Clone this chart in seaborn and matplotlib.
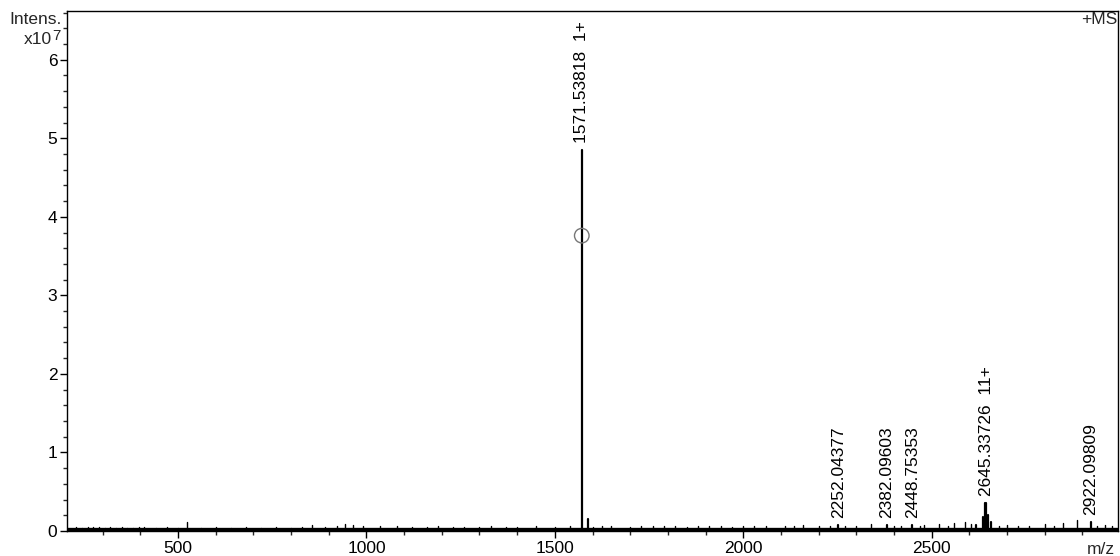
import matplotlib
matplotlib.use("Agg")
import matplotlib.pyplot as plt
from matplotlib.ticker import MultipleLocator
import numpy as np
import pandas as pd
import seaborn as sns

# ---- data (intensity in units of 1e7) ----
peak_mz = [1571.53818, 1588.0, 2252.04377, 2382.09603, 2448.75353,
           2636.0, 2641.3, 2645.33726, 2649.3, 2657.0, 2617.0, 2922.09809]
peak_int = [4.85, 0.15, 0.08, 0.08, 0.08,
            0.18, 0.36, 0.36, 0.20, 0.12, 0.08, 0.12]

label_mz = [1571.53818, 2252.04377, 2382.09603, 2448.75353, 2645.33726, 2922.09809]
label_int = [4.85, 0.08, 0.08, 0.08, 0.36, 0.12]
label_text = ["1571.53818  1+", "2252.04377", "2382.09603", "2448.75353",
              "2645.33726  11+", "2922.09809"]

noise_mz = [230, 245, 260, 275, 290, 305, 320, 335, 350, 365, 380, 395, 410, 440,
            470, 500, 524, 560, 600, 640, 680, 720, 760, 800, 830, 856, 890, 923,
            942, 963, 992, 1037, 1080, 1120, 1160, 1190, 1230, 1260, 1300, 1330,
            1370, 1400, 1450, 1500, 1540, 1600, 1625, 1650, 1700, 1730, 1760,
            1790, 1820, 1850, 1880, 1910, 1940, 1970, 2000, 2030, 2060, 2110,
            2135, 2160, 2200, 2230, 2270, 2300, 2340, 2400, 2420, 2470, 2480,
            2520, 2545, 2560, 2590, 2605, 2680, 2700, 2730, 2760, 2800, 2825,
            2850, 2885, 2940, 2960, 2980]
noise_int = [0.05, 0.04, 0.05, 0.05, 0.05, 0.04, 0.05, 0.04, 0.05, 0.04, 0.04, 0.05,
             0.05, 0.04, 0.05, 0.04, 0.12, 0.04, 0.05, 0.04, 0.05, 0.04, 0.05, 0.04,
             0.05, 0.08, 0.05, 0.07, 0.09, 0.08, 0.07, 0.07, 0.06, 0.05, 0.05, 0.06,
             0.05, 0.05, 0.05, 0.06, 0.05, 0.05, 0.06, 0.05, 0.06, 0.05, 0.06, 0.06,
             0.05, 0.06, 0.07, 0.06, 0.06, 0.05, 0.07, 0.06, 0.06, 0.05, 0.07, 0.06,
             0.06, 0.07, 0.06, 0.08, 0.06, 0.07, 0.06, 0.07, 0.09, 0.06, 0.07, 0.06,
             0.08, 0.09, 0.07, 0.10, 0.12, 0.09, 0.07, 0.08, 0.06, 0.07, 0.09, 0.07,
             0.10, 0.14, 0.07, 0.08, 0.06]

baseline_mz = [205, 2995]
baseline_int = [0.02, 0.02]

marker_mz = [1571.53818]
marker_int = [3.76]

x_ticks = [500, 1000, 1500, 2000, 2500]
y_ticks = [0, 1, 2, 3, 4, 5, 6]

# ---- figure ----
sns.set_theme(style="ticks")
plt.rcParams['font.family'] = ['Liberation Sans', 'DejaVu Sans']

fig = plt.figure(figsize=(11.2, 5.56), dpi=100)
ax = fig.add_axes([67 / 1120, 25 / 556, (1118 - 67) / 1120, (531 - 11) / 556])

def sticks(mz, inten, prefix):
    rows = []
    for i, (m, h) in enumerate(zip(mz, inten)):
        rows.append((m, 0.0, f"{prefix}{i}"))
        rows.append((m, h, f"{prefix}{i}"))
    return pd.DataFrame(rows, columns=["mz", "intensity", "peak"])

noise_df = sticks(noise_mz, noise_int, "n")
peak_df = sticks(peak_mz, peak_int, "p")

sns.lineplot(x=baseline_mz, y=baseline_int, color="black", lw=2.4, ax=ax)
sns.lineplot(data=noise_df, x="mz", y="intensity", units="peak", estimator=None,
             color="black", lw=1.0, ax=ax)
sns.lineplot(data=peak_df, x="mz", y="intensity", units="peak", estimator=None,
             color="black", lw=1.6, ax=ax)
sns.scatterplot(x=marker_mz, y=marker_int, s=110, marker="o", facecolor="none",
                edgecolor="#777777", linewidth=1.0, ax=ax, zorder=5)

for m, h, t in zip(label_mz, label_int, label_text):
    ax.annotate(t, xy=(m, h), xytext=(0, 5), textcoords="offset points",
                rotation=90, ha="center", va="bottom", fontsize=12.5, color="black")

ax.set_xlim(205, 2995)
ax.set_ylim(0, 6.62)
ax.set_xticks(x_ticks)
ax.set_yticks(y_ticks)
ax.xaxis.set_minor_locator(MultipleLocator(100))
ax.yaxis.set_minor_locator(MultipleLocator(0.2))
ax.tick_params(axis="both", which="major", length=5, width=1, labelsize=12.5,
               direction="out", colors="black", pad=2)
ax.tick_params(axis="both", which="minor", length=3, width=1, direction="out")
ax.set_xlabel("")
ax.set_ylabel("")
for s in ax.spines.values():
    s.set_visible(True)
    s.set_color("black")
    s.set_linewidth(1.0)

fig.text(62 / 1120, 1 - 19 / 556, "Intens.", ha="right", va="center", fontsize=12.5)
fig.text(52 / 1120, 1 - 40 / 556, "x10", ha="right", va="center", fontsize=12.5)
fig.text(52 / 1120, 1 - 36 / 556, "7", ha="left", va="center", fontsize=11)
fig.text(1117 / 1120, 1 - 20 / 556, "+MS", ha="right", va="center", fontsize=12.5)
fig.text(1115 / 1120, 1 - 549 / 556, "m/z", ha="right", va="center", fontsize=12.5)

fig.savefig("out.png", dpi=100, facecolor="white")
